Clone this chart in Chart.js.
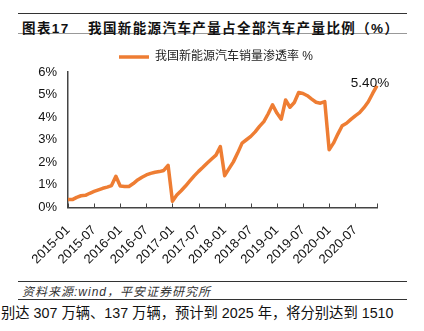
<!DOCTYPE html>
<html>
<head>
<meta charset="utf-8">
<script src="https://cdn.jsdelivr.net/npm/chart.js@4/dist/chart.umd.min.js"></script>
<style>
  body { margin: 0; width: 424px; height: 331px; background: #fff; position: relative; overflow: hidden;
         font-family: "Liberation Sans", "Noto Sans CJK SC", sans-serif; color: #111; }
  .rule { position: absolute; left: 18px; width: 389px; height: 0; }
  #r1 { top: 13px; border-top: 1px solid #333; }
  #r2 { top: 33px; border-top: 1px solid #999; }
  #r3 { top: 281px; border-top: 1px solid #333; }
  #r4 { top: 299px; border-top: 1px solid #333; }
  .ttl { position: absolute; top: 17px; font-weight: bold; font-size: 13.5px; letter-spacing: 1.4px; white-space: nowrap; }
  #fig { left: 22px; }
  #name { left: 88px; }
  #src { position: absolute; left: 22px; top: 282px; font-size: 12px; font-style: italic; letter-spacing: 1px; color: #333; white-space: nowrap; }
  #body { position: absolute; left: 1px; top: 301px; font-size: 14.3px; white-space: nowrap; }
  #wrap { position: absolute; left: 0; top: 36px; width: 424px; height: 244px; }
</style>
</head>
<body>
<div class="rule" id="r1"></div>
<div class="rule" id="r2"></div>
<div class="ttl" id="fig">图表17</div>
<div class="ttl" id="name">我国新能源汽车产量占全部汽车产量比例（%）</div>
<div id="wrap"><canvas id="c" width="424" height="244"></canvas></div>
<div class="rule" id="r3"></div>
<div id="src">资料来源:wind，平安证券研究所</div>
<div class="rule" id="r4"></div>
<div id="body">别达 307 万辆、137 万辆，预计到 2025 年，将分别达到 1510</div>
<script>
// NEV share of total vehicle sales, year-to-date, in percent.
const years = ['2015', '2016', '2017', '2018', '2019', '2020'];
const months = ['01', '02', '03', '04', '05', '06', '07', '08', '09', '10', '11', '12'];
const share2015 = [0.35, 0.35, 0.45, 0.52, 0.54, 0.63, 0.71, 0.78, 0.85, 0.90, 0.97, 1.38];
const share2016 = [0.95, 0.93, 0.93, 1.06, 1.22, 1.34, 1.44, 1.51, 1.56, 1.59, 1.64, 1.87];
const share2017 = [0.28, 0.55, 0.74, 0.95, 1.18, 1.40, 1.60, 1.78, 1.97, 2.15, 2.32, 2.70];
const share2018 = [1.41, 1.72, 2.02, 2.42, 2.85, 3.00, 3.15, 3.35, 3.59, 3.80, 4.15, 4.55];
const share2019 = [4.18, 3.91, 4.76, 4.44, 4.65, 5.09, 5.05, 4.95, 4.80, 4.66, 4.62, 4.69];
const share2020 = [2.56, 2.85, 3.25, 3.62, 3.73, 3.90, 4.06, 4.20, 4.42, 4.68, 5.05, 5.40];
const yTicks = [0, 1, 2, 3, 4, 5, 6];
const seriesName = '我国新能源汽车销量渗透率 %';

const labels = years.flatMap((y) => months.map((m) => y + '-' + m));
const share = [].concat(share2015, share2016, share2017, share2018, share2019, share2020);

const ORANGE = '#EE7D33';
const AXIS = '#444';
const FONT = '"Liberation Sans", "Noto Sans CJK SC", sans-serif';

// legend sits a bit right of the plot centre; inward x tick marks; label on the last point
const marks = {
  id: 'marks',
  beforeInit(chart) {
    const fit = chart.legend.fit;
    chart.legend.fit = function () { fit.call(this); this.height -= 1; };
  },
  afterLayout(chart) {
    const lg = chart.legend;
    lg.left = 55; lg.right = 377; lg.width = lg.right - lg.left;
  },
  afterDatasetsDraw(chart) {
    const { ctx, scales: { x }, chartArea } = chart;
    ctx.save();
    ctx.strokeStyle = AXIS; ctx.lineWidth = 1;
    x.ticks.forEach((t, i) => {
      if (t.label == null) return;
      const px = Math.round(x.getPixelForTick(i)) + 0.5;
      ctx.beginPath(); ctx.moveTo(px, chartArea.bottom); ctx.lineTo(px, chartArea.bottom - 4); ctx.stroke();
    });
    const pts = chart.getDatasetMeta(0).data;
    const last = pts[pts.length - 1];
    ctx.font = '13.5px ' + FONT; ctx.fillStyle = '#111';
    ctx.textAlign = 'center'; ctx.textBaseline = 'middle';
    ctx.fillText(share[share.length - 1].toFixed(2) + '%', last.x - 7, last.y - 2);
    ctx.restore();
  }
};

new Chart(document.getElementById('c'), {
  type: 'line',
  data: { labels, datasets: [{ label: seriesName, data: share, borderColor: ORANGE, backgroundColor: ORANGE,
    borderWidth: 3.5, pointRadius: 0, tension: 0, borderJoinStyle: 'round', pointStyle: 'line' }] },
  options: {
    responsive: false, animation: false, devicePixelRatio: 1,
    layout: { padding: { left: 0, right: 47, top: 5, bottom: 0 } },
    plugins: {
      legend: { labels: { usePointStyle: true, pointStyleWidth: 30, padding: 10, color: '#222', font: { family: FONT, size: 12 } } },
      tooltip: { enabled: false }
    },
    scales: {
      x: {
        grid: { display: false, drawTicks: false },
        border: { display: true, color: AXIS, width: 1.5 },
        ticks: { autoSkip: false, minRotation: 45, maxRotation: 45, padding: 15, color: '#111', font: { family: FONT, size: 13 },
          callback: (v, i) => (i % 6 === 0 ? labels[i] : (i === labels.length - 1 ? '' : null)) },
        afterFit: (s) => { s.height = 72.5; }
      },
      y: {
        min: 0, max: 6,
        grid: { display: false, drawTicks: false },
        border: { display: true, color: AXIS, width: 1.5 },
        ticks: { stepSize: 1, padding: 11, color: '#111', font: { family: FONT, size: 13 },
          callback: (v) => (yTicks.includes(v) ? v + '%' : null) },
        afterFit: (s) => { s.width = 68; }
      }
    }
  },
  plugins: [marks]
});
</script>
</body>
</html>
